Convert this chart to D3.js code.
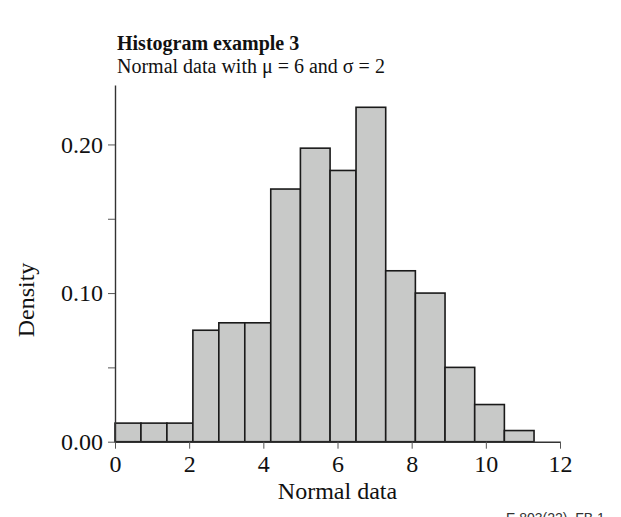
<!DOCTYPE html>
<html>
<head>
<meta charset="utf-8">
<script src="https://cdn.jsdelivr.net/npm/d3@7"></script>
<style>
  body { margin: 0; background: #fff; }
  svg { display: block; }
  text { font-family: "Liberation Serif", "Times New Roman", serif; fill: #111; }
</style>
</head>
<body>
<svg id="chart" width="621" height="517"></svg>
<script>
// ---- data ----
var binEdges = [0, 0.7, 1.4, 2.1, 2.8, 3.5, 4.2, 5.0, 5.8, 6.5, 7.3, 8.1, 8.9, 9.7, 10.5, 11.3];
var densities = [0.0125, 0.0125, 0.0125, 0.075, 0.08, 0.08, 0.17, 0.1975, 0.1825, 0.225, 0.115, 0.10, 0.05, 0.025, 0.0075];
var xTicks = [0, 2, 4, 6, 8, 10, 12];
var yTicks = [0, 0.05, 0.10, 0.15, 0.20];
var yLabelTicks = [0, 0.10, 0.20];

(function () {

var bins = densities.map(function (d, i) {
    return { x0: binEdges[i], x1: binEdges[i + 1], y: d };
});

var svg = d3.select('#chart');

// plot area
var plotLeft = 115, plotRight = 560, plotTop = 85, plotBottom = 441.7;

var x = d3.scaleLinear().domain([0, 12]).range([plotLeft, plotRight]);
var y = d3.scaleLinear().domain([0, 0.24]).range([plotBottom, plotTop]);

/********** bars **********/
svg.append('g').selectAll('rect')
    .data(bins)
    .enter().append('rect')
    .attr('x', function (d) { return x(d.x0); })
    .attr('y', function (d) { return y(d.y); })
    .attr('width', function (d) { return x(d.x1) - x(d.x0); })
    .attr('height', function (d) { return y(0) - y(d.y); })
    .style('fill', '#c8c9c8')
    .style('stroke', '#1a1a1a')
    .style('stroke-width', 1.6);

/********** axes **********/
var xAxis = d3.axisBottom(x).tickValues(xTicks).tickSize(7).tickSizeOuter(0).tickFormat(d3.format('d'));
var yAxis = d3.axisLeft(y).tickValues(yTicks).tickSize(7).tickSizeOuter(0)
    .tickFormat(function (d) { return yLabelTicks.indexOf(d) >= 0 ? d3.format('.2f')(d) : ''; });

var gx = svg.append('g').attr('transform', 'translate(0,' + plotBottom + ')').call(xAxis);
var gy = svg.append('g').attr('transform', 'translate(' + plotLeft + ',0)').call(yAxis);

[gx, gy].forEach(function (g) {
    g.select('.domain').style('stroke', '#333').style('stroke-width', 1.4);
    g.selectAll('.tick line').style('stroke', '#555').style('stroke-width', 1);
    g.selectAll('.tick text')
        .style('font-family', '"Liberation Serif", "Times New Roman", serif')
        .style('font-size', '24px')
        .style('fill', '#111');
});
gx.selectAll('.tick text').attr('dy', null).attr('y', 30);
gy.selectAll('.tick text').attr('x', -12);

/********** titles **********/
svg.append('text')
    .attr('x', 117).attr('y', 50)
    .style('font-size', '20px').style('font-weight', 'bold')
    .text('Histogram example 3');

svg.append('text')
    .attr('x', 117).attr('y', 73)
    .style('font-size', '20px')
    .text('Normal data with \u03bc = 6 and \u03c3 = 2');

svg.append('text')
    .attr('x', (plotLeft + plotRight) / 2).attr('y', 499)
    .attr('text-anchor', 'middle')
    .style('font-size', '24px')
    .text('Normal data');

svg.append('text')
    .attr('transform', 'translate(34,300) rotate(-90)')
    .attr('text-anchor', 'middle')
    .style('font-size', '24px')
    .text('Density');

// figure reference, cut off at the bottom edge like the original
svg.append('text')
    .attr('x', 506).attr('y', 523)
    .style('font-family', '"Liberation Sans", Arial, sans-serif')
    .style('font-size', '14px')
    .style('fill', '#333')
    .text('E.803(22)_FB.1');

})();
</script>
</body>
</html>
